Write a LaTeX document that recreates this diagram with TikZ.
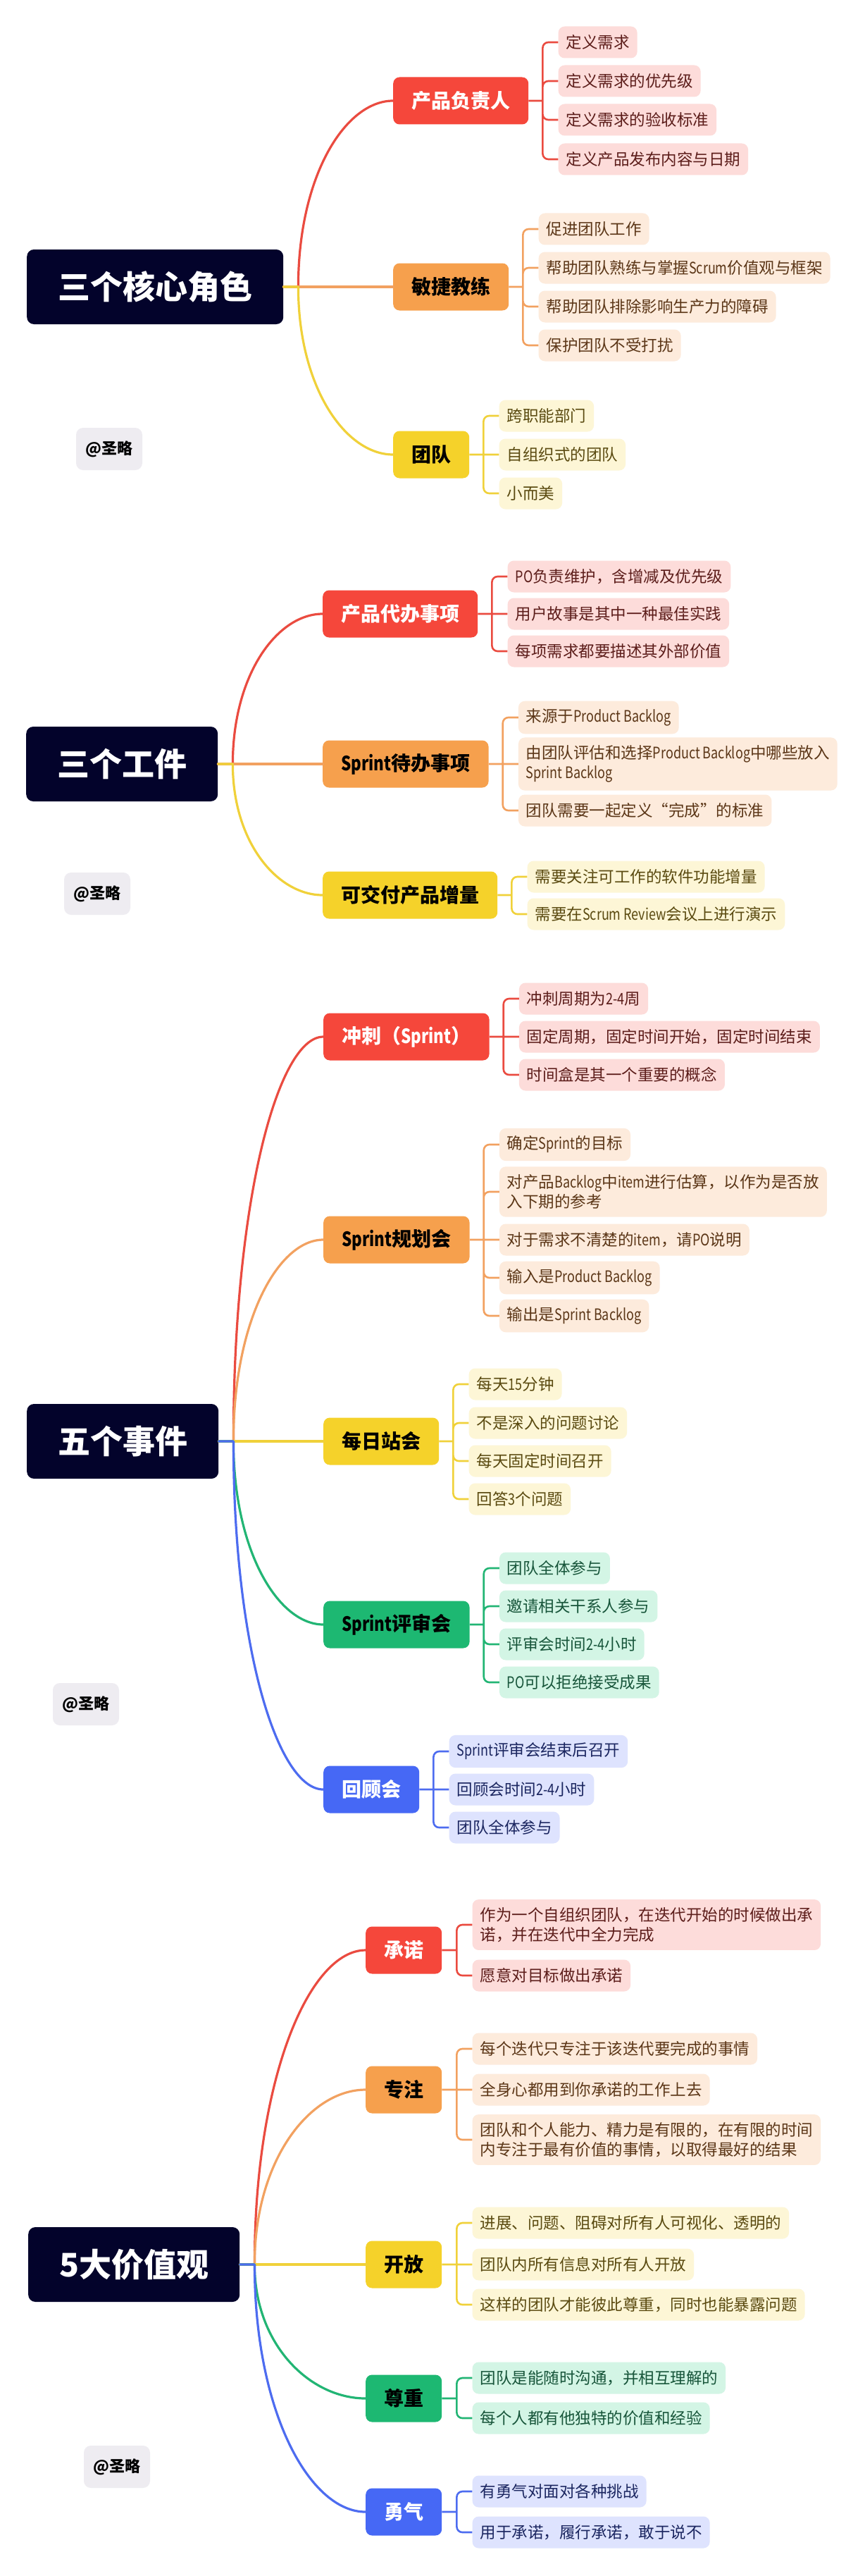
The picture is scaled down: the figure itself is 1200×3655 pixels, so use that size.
\documentclass[tikz,border=0pt]{standalone}
\usepackage{fontspec}
\setmainfont{Noto Sans CJK SC}
\newfontfamily\latnfont{Noto Sans CJK SC}[FakeStretch=0.8]
\newcommand{\latn}[1]{{\latnfont #1}}
\usepackage{tikz}
\usetikzlibrary{calc,positioning}

\definecolor{rootc}{HTML}{03032B}
\definecolor{signc}{HTML}{EEECF1}
\definecolor{redm}{HTML}{F5473B}
\definecolor{redl}{HTML}{EA4B40}
\definecolor{redf}{HTML}{FDDCDA}
\definecolor{redt}{HTML}{5C1D1A}
\definecolor{orangem}{HTML}{F6A04D}
\definecolor{orangel}{HTML}{F2A160}
\definecolor{orangef}{HTML}{FDEBDC}
\definecolor{oranget}{HTML}{5B3617}
\definecolor{yellowm}{HTML}{F5D22A}
\definecolor{yellowl}{HTML}{F0D13A}
\definecolor{yellowf}{HTML}{FDF6D6}
\definecolor{yellowt}{HTML}{5A4A10}
\definecolor{greenm}{HTML}{1DB872}
\definecolor{greenl}{HTML}{22B574}
\definecolor{greenf}{HTML}{D3F5E5}
\definecolor{greent}{HTML}{17553A}
\definecolor{bluem}{HTML}{4668F5}
\definecolor{bluel}{HTML}{4D6CF0}
\definecolor{bluef}{HTML}{DEE3FE}
\definecolor{bluet}{HTML}{1B2660}

\tikzset{
  rootbox/.style={anchor=west, fill=rootc, text=white, rounded corners=10pt, inner xsep=44pt,
    minimum height=106pt, font=\fontsize{46}{50}\selectfont\bfseries},
  topic/.style={anchor=west, fill=#1, rounded corners=9pt, inner xsep=26pt, minimum height=67pt,
    font=\fontsize{28}{32}\selectfont\bfseries},
  leaf/.style={anchor=west, xshift=22pt, rounded corners=9pt, inner xsep=11pt, inner ysep=11pt,
    minimum height=45pt, align=left, font=\fontsize{22.5}{28.5}\selectfont},
  redleaf/.style={leaf, fill=redf, text=redt},
  orangeleaf/.style={leaf, fill=orangef, text=oranget},
  yellowleaf/.style={leaf, fill=yellowf, text=yellowt},
  greenleaf/.style={leaf, fill=greenf, text=greent},
  blueleaf/.style={leaf, fill=bluef, text=bluet},
  signbox/.style={fill=signc, rounded corners=10pt, minimum width=94pt, minimum height=60pt,
    font=\fontsize{22}{26}\selectfont\bfseries},
  branch/.style={draw=#1, line width=3.2pt, line cap=round, line join=round},
  bracket/.style={draw=#1, line width=2.6pt, rounded corners=8pt},
  curvy/.style={to path={.. controls ($(\tikztostart)!0.6!(\tikztostart|-\tikztotarget)$)
    and ($(\tikztostart|-\tikztotarget)!0.5!(\tikztotarget)$) .. (\tikztotarget)}}
}

\begin{document}
\begin{tikzpicture}[x=1pt,y=-1pt]
\fill[white] (0,0) rectangle (1200,3655);
\useasboundingbox (0,0) rectangle (1200,3655);

% 三个核心角色
\node[rootbox] (role) at (38,407) {三个核心角色};
\coordinate (roleS) at ([xshift=21pt]role.east);
\node[topic=redm, text=white] (po) at (558,143) {产品负责人};
\node[topic=orangem] (sm) at (558,407) {敏捷教练};
\node[topic=yellowm] (team) at (558,645) {团队};
\draw[branch=redl] (role.east) -- (roleS) to[curvy] (po.west);
\draw[branch=orangel] (role.east) -- (sm.west);
\draw[branch=yellowl] (role.east) -- (roleS) to[curvy] (team.west);

\coordinate (poB) at ([xshift=20pt]po.east);
\node[redleaf] (po1) at (poB |- 0,60) {定义需求};
\node[redleaf] (po2) at (poB |- 0,115) {定义需求的优先级};
\node[redleaf] (po3) at (poB |- 0,170) {定义需求的验收标准};
\node[redleaf] (po4) at (poB |- 0,226) {定义产品发布内容与日期};
\draw[bracket=redl] (po.east) -- (poB) (poB) |- (po1.west) (poB) |- (po2.west)
  (poB) |- (po3.west) (poB) |- (po4.west);

\coordinate (smB) at ([xshift=20pt]sm.east);
\node[orangeleaf] (sm1) at (smB |- 0,325) {促进团队工作};
\node[orangeleaf] (sm2) at (smB |- 0,380) {帮助团队熟练与掌握\latn{Scrum}价值观与框架};
\node[orangeleaf] (sm3) at (smB |- 0,435) {帮助团队排除影响生产力的障碍};
\node[orangeleaf] (sm4) at (smB |- 0,490) {保护团队不受打扰};
\draw[bracket=orangel] (sm.east) -- (smB) (smB) |- (sm1.west) (smB) |- (sm2.west)
  (smB) |- (sm3.west) (smB) |- (sm4.west);

\coordinate (teamB) at ([xshift=20pt]team.east);
\node[yellowleaf] (team1) at (teamB |- 0,590) {跨职能部门};
\node[yellowleaf] (team2) at (teamB |- 0,645) {自组织式的团队};
\node[yellowleaf] (team3) at (teamB |- 0,700) {小而美};
\draw[bracket=yellowl] (team.east) -- (team2.west) (teamB) |- (team1.west) (teamB) |- (team3.west);

\node[signbox] (sign1) at (155,637) {@圣略};

% 三个工件
\node[rootbox] (art) at (37,1084) {三个工件};
\coordinate (artS) at ([xshift=21pt]art.east);
\node[topic=redm, text=white] (pb) at (458,871) {产品代办事项};
\node[topic=orangem] (sb) at (458,1084) {\latn{Sprint}待办事项};
\node[topic=yellowm] (inc) at (458,1270) {可交付产品增量};
\draw[branch=redl] (art.east) -- (artS) to[curvy] (pb.west);
\draw[branch=orangel] (art.east) -- (sb.west);
\draw[branch=yellowl] (art.east) -- (artS) to[curvy] (inc.west);

\coordinate (pbB) at ([xshift=20pt]pb.east);
\node[redleaf] (pb1) at (pbB |- 0,818) {\latn{PO}负责维护，含增减及优先级};
\node[redleaf] (pb2) at (pbB |- 0,871) {用户故事是其中一种最佳实践};
\node[redleaf] (pb3) at (pbB |- 0,924) {每项需求都要描述其外部价值};
\draw[bracket=redl] (pb.east) -- (pb2.west) (pbB) |- (pb1.west) (pbB) |- (pb3.west);

\coordinate (sbB) at ([xshift=20pt]sb.east);
\node[orangeleaf] (sb1) at (sbB |- 0,1018) {来源于\latn{Product Backlog}};
\node[orangeleaf] (sb2) at (sbB |- 0,1084) {由团队评估和选择\latn{Product Backlog}中哪些放入\\\latn{Sprint Backlog}};
\node[orangeleaf] (sb3) at (sbB |- 0,1150) {团队需要一起定义“完成”的标准};
\draw[bracket=orangel] (sb.east) -- (sb2.west) (sbB) |- (sb1.west) (sbB) |- (sb3.west);

\coordinate (incB) at ([xshift=20pt]inc.east);
\node[yellowleaf] (inc1) at (incB |- 0,1244) {需要关注可工作的软件功能增量};
\node[yellowleaf] (inc2) at (incB |- 0,1297) {需要在\latn{Scrum Review}会议上进行演示};
\draw[bracket=yellowl] (inc.east) -- (incB) (incB) |- (inc1.west) (incB) |- (inc2.west);

\node[signbox] (sign2) at (138,1268) {@圣略};

% 五个事件
\node[rootbox] (ev) at (38,2045) {五个事件};
\coordinate (evS) at ([xshift=21pt]ev.east);
\node[topic=redm, text=white] (sp) at (459,1471) {冲刺（\latn{Sprint}）};
\node[topic=orangem] (plan) at (459,1759) {\latn{Sprint}规划会};
\node[topic=yellowm] (daily) at (459,2045) {每日站会};
\node[topic=greenm] (rev) at (459,2305) {\latn{Sprint}评审会};
\node[topic=bluem, text=white] (retro) at (459,2539) {回顾会};
\draw[branch=redl] (ev.east) -- (evS) to[curvy] (sp.west);
\draw[branch=orangel] (ev.east) -- (evS) to[curvy] (plan.west);
\draw[branch=yellowl] (ev.east) -- (daily.west);
\draw[branch=greenl] (ev.east) -- (evS) to[curvy] (rev.west);
\draw[branch=bluel] (ev.east) -- (evS) to[curvy] (retro.west);

\coordinate (spB) at ([xshift=20pt]sp.east);
\node[redleaf] (sp1) at (spB |- 0,1417) {冲刺周期为\latn{2-4}周};
\node[redleaf] (sp2) at (spB |- 0,1471) {固定周期，固定时间开始，固定时间结束};
\node[redleaf] (sp3) at (spB |- 0,1525) {时间盒是其一个重要的概念};
\draw[bracket=redl] (sp.east) -- (sp2.west) (spB) |- (sp1.west) (spB) |- (sp3.west);

\coordinate (planB) at ([xshift=20pt]plan.east);
\node[orangeleaf] (plan1) at (planB |- 0,1624) {确定\latn{Sprint}的目标};
\node[orangeleaf] (plan2) at (planB |- 0,1691) {对产品\latn{Backlog}中\latn{item}进行估算，以作为是否放\\入下期的参考};
\node[orangeleaf] (plan3) at (planB |- 0,1759) {对于需求不清楚的\latn{item}，请\latn{PO}说明};
\node[orangeleaf] (plan4) at (planB |- 0,1813) {输入是\latn{Product Backlog}};
\node[orangeleaf] (plan5) at (planB |- 0,1867) {输出是\latn{Sprint Backlog}};
\draw[bracket=orangel] (plan.east) -- (plan3.west) (planB) |- (plan1.west) (planB) |- (plan2.west)
  (planB) |- (plan4.west) (planB) |- (plan5.west);

\coordinate (dailyB) at ([xshift=20pt]daily.east);
\node[yellowleaf] (daily1) at (dailyB |- 0,1964) {每天\latn{15}分钟};
\node[yellowleaf] (daily2) at (dailyB |- 0,2019) {不是深入的问题讨论};
\node[yellowleaf] (daily3) at (dailyB |- 0,2073) {每天固定时间召开};
\node[yellowleaf] (daily4) at (dailyB |- 0,2127) {回答\latn{3}个问题};
\draw[bracket=yellowl] (daily.east) -- (dailyB) (dailyB) |- (daily1.west) (dailyB) |- (daily2.west)
  (dailyB) |- (daily3.west) (dailyB) |- (daily4.west);

\coordinate (revB) at ([xshift=20pt]rev.east);
\node[greenleaf] (rev1) at (revB |- 0,2225) {团队全体参与};
\node[greenleaf] (rev2) at (revB |- 0,2279) {邀请相关干系人参与};
\node[greenleaf] (rev3) at (revB |- 0,2333) {评审会时间\latn{2-4}小时};
\node[greenleaf] (rev4) at (revB |- 0,2387) {\latn{PO}可以拒绝接受成果};
\draw[bracket=greenl] (rev.east) -- (revB) (revB) |- (rev1.west) (revB) |- (rev2.west)
  (revB) |- (rev3.west) (revB) |- (rev4.west);

\coordinate (retroB) at ([xshift=20pt]retro.east);
\node[blueleaf] (retro1) at (retroB |- 0,2485) {\latn{Sprint}评审会结束后召开};
\node[blueleaf] (retro2) at (retroB |- 0,2539) {回顾会时间\latn{2-4}小时};
\node[blueleaf] (retro3) at (retroB |- 0,2593) {团队全体参与};
\draw[bracket=bluel] (retro.east) -- (retro2.west) (retroB) |- (retro1.west) (retroB) |- (retro3.west);

\node[signbox] (sign3) at (122,2418) {@圣略};

% 5大价值观
\node[rootbox] (val) at (40,3213) {5大价值观};
\coordinate (valS) at ([xshift=21pt]val.east);
\node[topic=redm, text=white] (com) at (519,2767) {承诺};
\node[topic=orangem] (foc) at (519,2965) {专注};
\node[topic=yellowm] (open) at (519,3213) {开放};
\node[topic=greenm] (res) at (519,3403) {尊重};
\node[topic=bluem, text=white] (cour) at (519,3564) {勇气};
\draw[branch=redl] (val.east) -- (valS) to[curvy] (com.west);
\draw[branch=orangel] (val.east) -- (valS) to[curvy] (foc.west);
\draw[branch=yellowl] (val.east) -- (open.west);
\draw[branch=greenl] (val.east) -- (valS) to[curvy] (res.west);
\draw[branch=bluel] (val.east) -- (valS) to[curvy] (cour.west);

\coordinate (comB) at ([xshift=21pt]com.east);
\node[redleaf] (com1) at (comB |- 0,2731) {作为一个自组织团队，在迭代开始的时候做出承\\诺，并在迭代中全力完成};
\node[redleaf] (com2) at (comB |- 0,2803) {愿意对目标做出承诺};
\draw[bracket=redl] (com.east) -- (comB) (comB) |- (com1.west) (comB) |- (com2.west);

\coordinate (focB) at ([xshift=21pt]foc.east);
\node[orangeleaf] (foc1) at (focB |- 0,2907) {每个迭代只专注于该迭代要完成的事情};
\node[orangeleaf] (foc2) at (focB |- 0,2965) {全身心都用到你承诺的工作上去};
\node[orangeleaf] (foc3) at (focB |- 0,3036) {团队和个人能力、精力是有限的，在有限的时间\\内专注于最有价值的事情，以取得最好的结果};
\draw[bracket=orangel] (foc.east) -- (foc2.west) (focB) |- (foc1.west) (focB) |- (foc3.west);

\coordinate (openB) at ([xshift=21pt]open.east);
\node[yellowleaf] (open1) at (openB |- 0,3154) {进展、问题、阻碍对所有人可视化、透明的};
\node[yellowleaf] (open2) at (openB |- 0,3213) {团队内所有信息对所有人开放};
\node[yellowleaf] (open3) at (openB |- 0,3270) {这样的团队才能彼此尊重，同时也能暴露问题};
\draw[bracket=yellowl] (open.east) -- (open2.west) (openB) |- (open1.west) (openB) |- (open3.west);

\coordinate (resB) at ([xshift=21pt]res.east);
\node[greenleaf] (res1) at (resB |- 0,3374) {团队是能随时沟通，并相互理解的};
\node[greenleaf] (res2) at (resB |- 0,3431) {每个人都有他独特的价值和经验};
\draw[bracket=greenl] (res.east) -- (resB) (resB) |- (res1.west) (resB) |- (res2.west);

\coordinate (courB) at ([xshift=21pt]cour.east);
\node[blueleaf] (cour1) at (courB |- 0,3535) {有勇气对面对各种挑战};
\node[blueleaf] (cour2) at (courB |- 0,3593) {用于承诺，履行承诺，敢于说不};
\draw[bracket=bluel] (cour.east) -- (courB) (courB) |- (cour1.west) (courB) |- (cour2.west);

\node[signbox] (sign4) at (166,3500) {@圣略};
\end{tikzpicture}
\end{document}
